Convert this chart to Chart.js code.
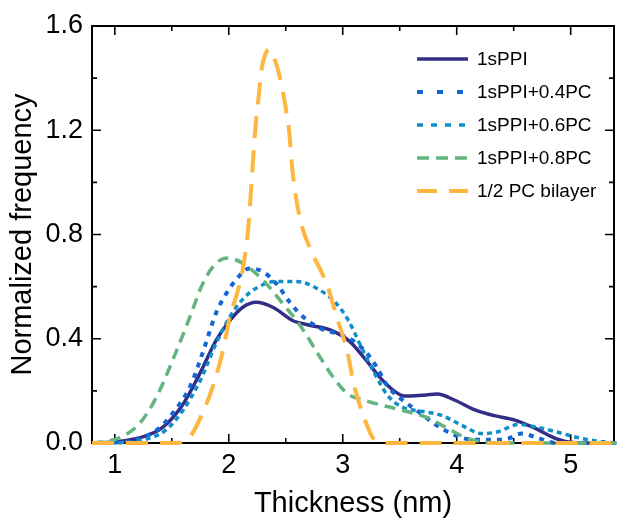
<!DOCTYPE html>
<html>
<head>
<meta charset="utf-8">
<script src="https://cdn.jsdelivr.net/npm/chart.js@4.4.1/dist/chart.umd.min.js"></script>
<style>body{margin:0;background:#fff}</style>
</head>
<body>
<canvas id="myChart" width="617" height="518"></canvas>
<script>
// values (thickness in nm, normalized frequency)
var ppiX = [0.8, 1.0, 1.22, 1.42, 1.6, 1.75, 1.89, 2.01, 2.12, 2.24, 2.39, 2.56, 2.71, 2.9, 3.06, 3.21, 3.33, 3.45, 3.54, 3.69, 3.83, 3.98, 4.16, 4.33, 4.51, 4.69, 4.87, 5.02, 5.2, 5.4];
var ppiY = [0, 0.004, 0.02, 0.06, 0.15, 0.27, 0.395, 0.47, 0.52, 0.54, 0.52, 0.47, 0.452, 0.432, 0.39, 0.315, 0.25, 0.2, 0.18, 0.183, 0.188, 0.165, 0.127, 0.105, 0.088, 0.056, 0.017, 0.002, 0, 0];

var pc04X = [0.8, 1.0, 1.16, 1.37, 1.51, 1.66, 1.77, 1.89, 1.98, 2.07, 2.18, 2.3, 2.42, 2.54, 2.65, 2.8, 2.95, 3.1, 3.22, 3.3, 3.39, 3.51, 3.68, 3.8, 3.92, 4.1, 4.28, 4.45, 4.57, 4.69, 4.87, 5.0, 5.4];
var pc04Y = [0, 0.002, 0.01, 0.05, 0.115, 0.216, 0.345, 0.5, 0.575, 0.63, 0.67, 0.657, 0.61, 0.537, 0.485, 0.44, 0.42, 0.39, 0.34, 0.29, 0.22, 0.17, 0.115, 0.075, 0.043, 0.015, 0.012, 0.017, 0.036, 0.023, 0, 0, 0];

var pc06X = [0.8, 1.1, 1.25, 1.45, 1.6, 1.75, 1.89, 2.01, 2.12, 2.24, 2.42, 2.59, 2.77, 2.94, 3.05, 3.15, 3.27, 3.39, 3.51, 3.72, 3.86, 4.04, 4.22, 4.36, 4.54, 4.69, 4.87, 5.04, 5.22, 5.4];
var pc06Y = [0, 0.002, 0.012, 0.05, 0.127, 0.24, 0.383, 0.485, 0.55, 0.594, 0.62, 0.62, 0.594, 0.537, 0.47, 0.38, 0.275, 0.185, 0.14, 0.12, 0.107, 0.069, 0.036, 0.043, 0.071, 0.062, 0.043, 0.023, 0.008, 0];

var pc08X = [0.8, 0.84, 1.04, 1.22, 1.37, 1.51, 1.66, 1.77, 1.89, 1.99, 2.12, 2.3, 2.47, 2.62, 2.8, 2.92, 3.04, 3.22, 3.39, 3.57, 3.75, 3.92, 4.1, 4.28, 4.5, 5.4];
var pc08Y = [0, 0.002, 0.02, 0.076, 0.18, 0.32, 0.485, 0.61, 0.69, 0.71, 0.69, 0.625, 0.537, 0.455, 0.33, 0.25, 0.19, 0.16, 0.14, 0.12, 0.096, 0.056, 0.017, 0.002, 0, 0];

var bilX = [0.8, 1.54, 1.66, 1.77, 1.86, 1.95, 2.01, 2.07, 2.12, 2.17, 2.2, 2.23, 2.26, 2.29, 2.32, 2.35, 2.38, 2.42, 2.46, 2.49, 2.53, 2.56, 2.62, 2.71, 2.82, 2.86, 2.95, 3.04, 3.1, 3.19, 3.27, 3.39, 5.4];
var bilY = [0, 0, 0.024, 0.115, 0.216, 0.357, 0.485, 0.57, 0.66, 0.82, 1.0, 1.19, 1.32, 1.44, 1.49, 1.51, 1.49, 1.45, 1.38, 1.31, 1.195, 1.04, 0.87, 0.75, 0.65, 0.61, 0.48, 0.35, 0.22, 0.095, 0.017, 0, 0];

var seriesNames = ['1sPPI', '1sPPI+0.4PC', '1sPPI+0.6PC', '1sPPI+0.8PC', '1/2 PC bilayer'];
var xTicks = [1, 2, 3, 4, 5];
var xMinor = [1.5, 2.5, 3.5, 4.5];
var yTicks = [0, 0.4, 0.8, 1.2, 1.6];
var yMinor = [0.2, 0.6, 1.0, 1.4];

var FONT = '"Liberation Sans", Arial, Helvetica, sans-serif';

function pts(xs, ys) {
    return xs.map(function (x, i) { return {x: x, y: ys[i]}; });
}

var styles = [
    {color: '#322e88', width: 3.5, dash: [], legendDash: []},
    {color: '#1466d4', width: 4, dash: [5, 6], legendDash: [6, 14]},
    {color: '#0e8fc9', width: 3.5, dash: [5, 4], legendDash: [6, 8]},
    {color: '#63b47e', width: 3.5, dash: [11, 7], legendDash: [12, 7]},
    {color: '#fdb640', width: 4, dash: [22, 12], legendDash: [20, 12]}
];

var allData = [pts(ppiX, ppiY), pts(pc04X, pc04Y), pts(pc06X, pc06Y), pts(pc08X, pc08Y), pts(bilX, bilY)];
// draw order: bilayer at the back, 1sPPI on top
var order = [4, 3, 2, 1, 0];

var datasets = order.map(function (i) {
    return {
        label: seriesNames[i],
        data: allData[i],
        borderColor: styles[i].color,
        borderWidth: styles[i].width,
        borderDash: styles[i].dash,
        pointRadius: 0,
        fill: false,
        clip: 3,
        cubicInterpolationMode: 'monotone'
    };
});

// frame with inward ticks on all four sides, under the curves
var framePlugin = {
    id: 'frame',
    beforeDatasetsDraw: function (chart) {
        var c = chart.ctx, a = chart.chartArea;
        var xs = chart.scales.x, ys = chart.scales.y;
        c.save();
        c.strokeStyle = '#000';
        c.lineWidth = 2;
        c.setLineDash([]);
        c.strokeRect(a.left, a.top, a.right - a.left, a.bottom - a.top);
        c.lineWidth = 1.6;
        function xt(v, len) {
            var p = xs.getPixelForValue(v);
            c.beginPath();
            c.moveTo(p, a.bottom); c.lineTo(p, a.bottom - len);
            c.moveTo(p, a.top); c.lineTo(p, a.top + len);
            c.stroke();
        }
        function yt(v, len) {
            var p = ys.getPixelForValue(v);
            c.beginPath();
            c.moveTo(a.left, p); c.lineTo(a.left + len, p);
            c.moveTo(a.right, p); c.lineTo(a.right - len, p);
            c.stroke();
        }
        xTicks.forEach(function (v) { xt(v, 9); });
        xMinor.forEach(function (v) { xt(v, 5); });
        yTicks.forEach(function (v) { yt(v, 9); });
        yMinor.forEach(function (v) { yt(v, 5); });
        c.restore();
    }
};

// legend drawn inside the plot, top right
var legendPlugin = {
    id: 'insideLegend',
    afterDraw: function (chart) {
        var c = chart.ctx;
        c.save();
        c.font = '19px ' + FONT;
        c.textBaseline = 'middle';
        c.fillStyle = '#000';
        seriesNames.forEach(function (name, i) {
            var y = 59 + i * 33;
            var s = styles[i];
            c.strokeStyle = s.color;
            c.lineWidth = s.width;
            c.setLineDash(s.legendDash);
            c.beginPath();
            c.moveTo(417, y);
            c.lineTo(468, y);
            c.stroke();
            c.fillText(name, 477, y + 1);
        });
        c.restore();
    }
};

var ctx = document.getElementById('myChart').getContext('2d');
var myChart = new Chart(ctx, {
    type: 'line',
    data: {datasets: datasets},
    options: {
        responsive: false,
        animation: false,
        layout: {padding: {top: 26, right: 3, left: 0, bottom: 0}},
        plugins: {legend: {display: false}, tooltip: {enabled: false}},
        scales: {
            x: {
                type: 'linear',
                min: 0.8,
                max: 5.38,
                grid: {display: false, drawTicks: false},
                border: {display: false},
                afterBuildTicks: function (s) { s.ticks = xTicks.map(function (v) { return {value: v}; }); },
                afterFit: function (s) { s.height = 75; },
                ticks: {
                    color: '#000',
                    padding: 6,
                    maxRotation: 0,
                    font: {family: FONT, size: 27},
                    callback: function (v) { return v; }
                },
                title: {
                    display: true,
                    text: 'Thickness (nm)',
                    color: '#000',
                    padding: 0,
                    font: {family: FONT, size: 29, lineHeight: 1}
                }
            },
            y: {
                min: 0,
                max: 1.6,
                grid: {display: false, drawTicks: false},
                border: {display: false},
                afterBuildTicks: function (s) { s.ticks = yTicks.map(function (v) { return {value: v}; }); },
                afterFit: function (s) { s.width = 92; },
                ticks: {
                    color: '#000',
                    padding: 9,
                    font: {family: FONT, size: 27},
                    callback: function (v) { return Number(v).toFixed(1); }
                },
                title: {
                    display: true,
                    text: 'Normalized frequency',
                    color: '#000',
                    padding: {top: 8, bottom: 0},
                    font: {family: FONT, size: 29, lineHeight: 1}
                }
            }
        }
    },
    plugins: [framePlugin, legendPlugin]
});
</script>
</body>
</html>
